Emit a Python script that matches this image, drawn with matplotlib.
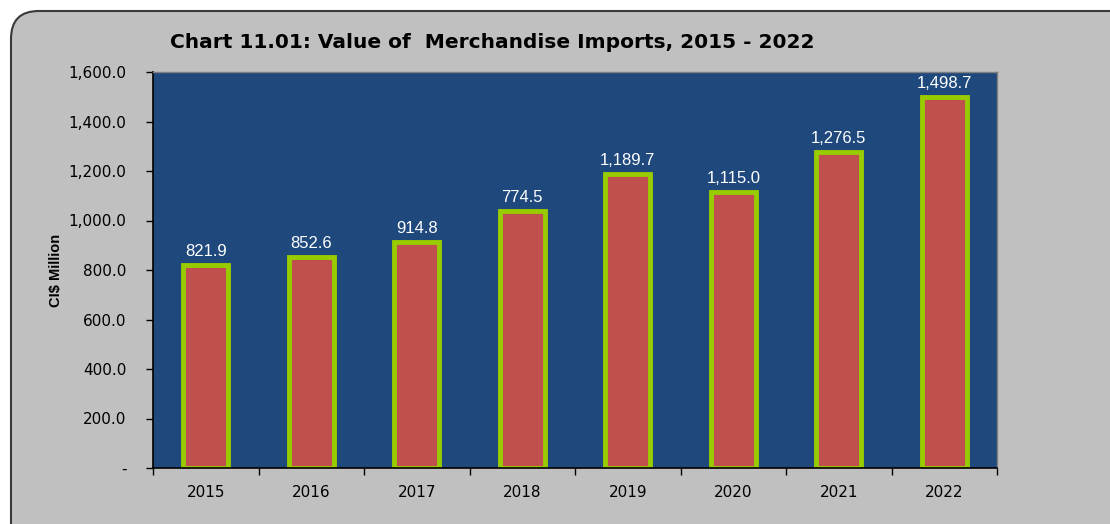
import matplotlib
matplotlib.use("Agg")
import matplotlib.pyplot as plt
from matplotlib.patches import FancyBboxPatch

# data
years = ["2015", "2016", "2017", "2018", "2019", "2020", "2021", "2022"]
bar_values = [821.9, 852.6, 914.8, 1040.0, 1189.7, 1115.0, 1276.5, 1498.7]
bar_labels = ["821.9", "852.6", "914.8", "774.5", "1,189.7", "1,115.0", "1,276.5", "1,498.7"]
yticks = [0, 200, 400, 600, 800, 1000, 1200, 1400, 1600]
ytick_labels = ["-", "200.0", "400.0", "600.0", "800.0", "1,000.0", "1,200.0", "1,400.0", "1,600.0"]

W, H = 1110, 524
fig = plt.figure(figsize=(W / 100, H / 100), dpi=100)
fig.patch.set_facecolor("white")

# rounded grey frame
frame = FancyBboxPatch((11 / W, -0.1), 1.2, 1.1 - 11 / H,
                       boxstyle="round,pad=0,rounding_size=0.025",
                       transform=fig.transFigure, facecolor="#c0c0c0",
                       edgecolor="#3a3a3a", linewidth=1.5, mutation_aspect=W / H,
                       zorder=-10)
fig.patches.append(frame)

ax = fig.add_axes([153 / W, 1 - 468 / H, (997 - 153) / W, (468 - 72) / H])
ax.set_zorder(5)
ax.set_facecolor("#1f497d")

x = range(len(years))
ax.bar(x, bar_values, width=0.43, color="#c0504d", edgecolor="#99cc00", linewidth=3.5)

for xi, v, lab in zip(x, bar_values, bar_labels):
    ax.text(xi, v + 24, lab, ha="center", va="bottom", color="white",
            fontsize=12, family="Liberation Sans")

ax.set_xlim(-0.5, len(years) - 0.5)
ax.set_ylim(0, 1600)
ax.set_yticks(yticks)
ax.set_yticklabels(ytick_labels)
ax.set_xticks(list(x))
ax.set_xticklabels(years)
ax.set_xticks([i - 0.5 for i in range(len(years) + 1)], minor=True)
ax.tick_params(axis="x", which="major", length=0, pad=12, labelsize=11)
ax.tick_params(axis="x", which="minor", length=5, width=1, direction="out")
ax.tick_params(axis="y", length=5, width=1, direction="out", labelsize=11, pad=14)

for s in ["top", "right"]:
    ax.spines[s].set_color("#7f7f7f")
    ax.spines[s].set_linewidth(1)
ax.spines["left"].set_color("black")
ax.spines["bottom"].set_color("black")
ax.spines["left"].set_linewidth(1.2)
ax.spines["bottom"].set_linewidth(1.2)

ax.set_ylabel("CI$ Million", fontsize=10.5, fontweight="bold", family="Liberation Sans")
ax.yaxis.set_label_coords(-0.107, 0.5)

fig.text(492 / W, 1 - 42 / H, "Chart 11.01: Value of  Merchandise Imports, 2015 - 2022",
         ha="center", va="center", fontsize=14.5, fontweight="bold", family="DejaVu Sans")

fig.savefig("out.png", dpi=100, facecolor=fig.get_facecolor())
